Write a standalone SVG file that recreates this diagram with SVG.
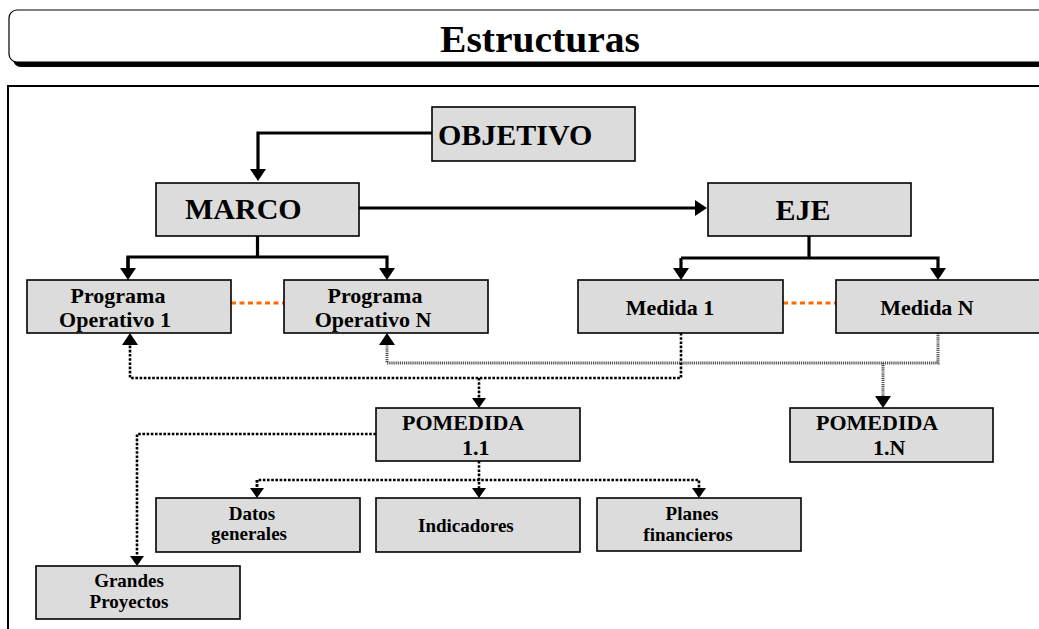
<svg xmlns="http://www.w3.org/2000/svg" width="1039" height="629" viewBox="0 0 1039 629">
<style>
.box{fill:#dcdcdc;stroke:#000;stroke-width:1.6}
.t{font-family:"Liberation Serif","Times New Roman",serif;font-weight:bold;fill:#000}
.big{font-size:30px}
.mid{font-size:22px}
.sm{font-size:19px}
.c{text-anchor:middle}
.solid{fill:none;stroke:#000;stroke-width:3.2}
.dot{fill:none;stroke:#000;stroke-width:2.6;stroke-dasharray:2.6,1.6}
.hatch{fill:none;stroke:#555;stroke-width:3;stroke-dasharray:1.2,0.9}
.orange{fill:none;stroke:#ff6a00;stroke-width:3;stroke-dasharray:5,3.5}
</style>
<defs>
<marker id="ah" viewBox="0 0 12 16" markerWidth="12" markerHeight="16" refX="4" refY="8" orient="auto" markerUnits="userSpaceOnUse">
<path d="M0,0 L12,8 L0,16 z" fill="#000"/>
</marker>
<marker id="ad" viewBox="0 0 10 14" markerWidth="10" markerHeight="14" refX="3" refY="7" orient="auto" markerUnits="userSpaceOnUse">
<path d="M0,0 L10,7 L0,14 z" fill="#000"/>
</marker>
</defs>
<rect width="1039" height="629" fill="#fff"/>
<g id="title">
<rect x="13" y="15" width="1100" height="52" rx="8" fill="#000"/>
<rect x="9" y="10" width="1100" height="52" rx="8" fill="#fff" stroke="#000" stroke-width="1.2"/>
<text class="t c" x="540" y="52" font-size="37" textLength="200" lengthAdjust="spacingAndGlyphs">Estructuras</text>
</g>
<rect id="frame" x="8" y="86" width="1100" height="600" fill="none" stroke="#000" stroke-width="2"/>
<g id="connectors">
<path class="solid" d="M432,133 H258 V173" marker-end="url(#ah)"/>
<path class="solid" d="M359,208 H699" marker-end="url(#ah)"/>
<path class="solid" d="M257.5,236 V257"/>
<path class="solid" d="M128,272 V257 H387 V272" marker-end="url(#ah)"/>
<path class="solid" d="M128,257 V272" marker-end="url(#ah)"/>
<path class="solid" d="M809,236 V258"/>
<path class="solid" d="M681,258 H938 V272" marker-end="url(#ah)"/>
<path class="solid" d="M681,258 V272" marker-end="url(#ah)"/>
<path class="orange" d="M231,303 H284"/>
<path class="orange" d="M783,303 H836"/>
<path class="hatch" d="M938,333 V363 H387 V341" marker-end="url(#ah)"/>
<path class="hatch" d="M883,363 V400" marker-end="url(#ah)"/>
<path class="dot" d="M681,333 V378 H130 V341" marker-end="url(#ah)"/>
<path class="dot" d="M479,378 V401" marker-end="url(#ad)"/>
<path class="dot" d="M376,434 H137 V559" marker-end="url(#ad)"/>
<path class="dot" d="M479,461 V491" marker-end="url(#ad)"/>
<path class="dot" d="M257,491 V480 H699 V491" marker-end="url(#ad)"/>
<path class="dot" d="M257,480 V491" marker-end="url(#ad)"/>
</g>
<g id="objetivo"><rect class="box" x="432" y="107" width="203" height="54"/><text class="t big" x="438" y="145">OBJETIVO</text></g>
<g id="marco"><rect class="box" x="156" y="183" width="203" height="53"/><text class="t big" x="185" y="219">MARCO</text></g>
<g id="eje"><rect class="box" x="708" y="183" width="203" height="53"/><text class="t big c" x="803" y="220">EJE</text></g>
<g id="po1"><rect class="box" x="27" y="280" width="204" height="53"/><text class="t mid c" x="118" y="303">Programa</text><text class="t mid c" x="115" y="327">Operativo 1</text></g>
<g id="pon"><rect class="box" x="284" y="280" width="204" height="53"/><text class="t mid c" x="375" y="303">Programa</text><text class="t mid c" x="373" y="327">Operativo N</text></g>
<g id="medida1"><rect class="box" x="578" y="280" width="205" height="53"/><text class="t mid c" x="670" y="315">Medida 1</text></g>
<g id="medidan"><rect class="box" x="836" y="280" width="210" height="53"/><text class="t mid c" x="927" y="315">Medida N</text></g>
<g id="pomedida11"><rect class="box" x="376" y="408" width="204" height="53"/><text class="t mid" x="402" y="430">POMEDIDA</text><text class="t mid" x="462" y="455">1.1</text></g>
<g id="pomedida1n"><rect class="box" x="790" y="408" width="203" height="54"/><text class="t mid" x="816" y="430">POMEDIDA</text><text class="t mid" x="873" y="455">1.N</text></g>
<g id="datos"><rect class="box" x="156" y="498" width="204" height="54"/><text class="t sm c" x="252" y="520">Datos</text><text class="t sm c" x="249" y="540">generales</text></g>
<g id="indicadores"><rect class="box" x="376" y="498" width="204" height="54"/><text class="t sm" x="418" y="532">Indicadores</text></g>
<g id="planes"><rect class="box" x="597" y="498" width="204" height="53"/><text class="t sm c" x="692" y="520">Planes</text><text class="t sm c" x="688" y="541">financieros</text></g>
<g id="grandes"><rect class="box" x="36" y="566" width="204" height="53"/><text class="t sm c" x="129" y="587">Grandes</text><text class="t sm c" x="129" y="608">Proyectos</text></g>
</svg>
